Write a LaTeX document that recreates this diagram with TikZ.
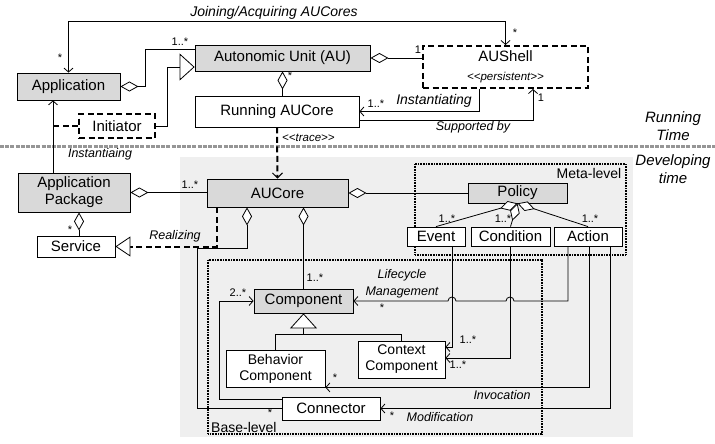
\documentclass[tikz,border=0pt]{standalone}
\usepackage{fontspec}
\setmainfont{Liberation Sans}
\usepackage{tikz}
\usetikzlibrary{arrows.meta}
\usetikzlibrary{backgrounds}

\definecolor{boxgray}{RGB}{217,217,217}
\definecolor{areagray}{RGB}{239,239,239}
\definecolor{sepgray}{RGB}{150,150,150}

\tikzset{
  cls/.style={draw, line width=0.8pt, fill=white, inner sep=1pt, align=center,
    font=\fontsize{15}{17}\selectfont},
  gcls/.style={cls, fill=boxgray},
  dcls/.style={cls, line width=2pt, dash pattern=on 6pt off 3.5pt},
  lbl/.style={inner sep=0pt, align=center, font=\fontsize{12.5}{17}\selectfont\itshape},
  mult/.style={inner sep=0pt, font=\fontsize{11}{12}\selectfont},
  link/.style={line width=0.8pt},
  nav/.style={link, -{Straight Barb[length=4pt,width=9pt]}},
  navboth/.style={link, {Straight Barb[length=4pt,width=9pt]}-{Straight Barb[length=4pt,width=9pt]}},
  aggr/.style={link, {Diamond[fill=white,length=18pt,width=10pt]}-},
  inh/.style={link, -{Triangle[fill=white,length=15pt,width=27pt]}},
  dep/.style={line width=2pt, dash pattern=on 6pt off 3.5pt},
  lvl/.style={line width=2pt, dash pattern=on 1pt off 0.6pt},
}

\begin{document}
\begin{tikzpicture}[x=1pt,y=-1pt]
\useasboundingbox (0,0) rectangle (715,444);

% developing area and levels
\fill[areagray] (180,157) rectangle (633,437);
\draw[lvl] (415,164) rectangle (626,255);
\draw[lvl] (208,260) rectangle (542,434);
\draw[sepgray, line width=3pt, dash pattern=on 4pt off 1.2pt] (0,146) -- (715,146);

% running time
\node[gcls, minimum width=103pt, minimum height=27pt] (app) at (68.5,86.5) {Application};
\node[gcls, minimum width=175pt, minimum height=26pt] (au) at (282.5,58) {Autonomic Unit (AU)};
\node[dcls, minimum width=165pt, minimum height=42pt] (shell) at (505.5,67)
  {AUShell\\[2pt]{\fontsize{11.5}{13}\selectfont\itshape {<}{<}persistent{>}{>}}};
\node[cls, minimum width=164pt, minimum height=31pt] (run) at (277,111.5) {Running AUCore};
\node[dcls, minimum width=76pt, minimum height=24pt] (init) at (117,126) {Initiator};

% developing time
\node[gcls, minimum width=112pt, minimum height=39pt] (apkg) at (74,192.5) {Application\\Package};
\node[cls, minimum width=78pt, minimum height=21pt] (serv) at (76,246.5) {Service};
\node[gcls, minimum width=141pt, minimum height=28pt] (core) at (277.5,193) {AUCore};
\node[gcls, minimum width=99pt, minimum height=20pt] (pol) at (517.5,193) {Policy};
\node[cls, minimum width=58pt, minimum height=19pt] (ev) at (436,236.5) {Event};
\node[cls, minimum width=79pt, minimum height=19pt] (cond) at (510.5,236.5) {Condition};
\node[cls, minimum width=68pt, minimum height=19pt] (act) at (588,236.5) {Action};
\node[gcls, minimum width=99pt, minimum height=24pt] (comp) at (303.5,301) {Component};
\node[cls, minimum width=99pt, minimum height=37pt, font=\fontsize{14}{16}\selectfont] (beh) at (275.5,368.5) {Behavior\\Component};
\node[cls, minimum width=87pt, minimum height=37pt, font=\fontsize{14}{16}\selectfont] (ctx) at (401.5,359.5) {Context\\Component};
\node[cls, minimum width=98pt, minimum height=23pt] (conn) at (331,408.5) {Connector};

\coordinate (instbot) at ([xshift=-21pt]apkg.north);

% running time links
\draw[navboth] (app.north) -- ++(0,-51) -| (shell.north);
\draw[aggr] (app.east) -- ++(25,0) |- ([yshift=9pt]au.west);
\draw[inh] (init.east) -- ++(11,0) |- ([yshift=-9pt]au.west);
\draw[dep] (init.west) -- (init.west -| instbot);
\draw[aggr] (au.east) -- (au.east -| shell.west);
\draw[aggr] (au.south) -- (au.south |- run.north);
\draw[nav] ([xshift=-26.5pt]shell.south) |- (run.east);
\draw[nav] ([yshift=-8.5pt]run.east) -| ([xshift=27.5pt]shell.south);
\draw[dep, -{Straight Barb[line width=1pt,length=5pt,width=10pt]}] (run.south) -- (core.north);
\draw[nav] (instbot) -- (instbot |- app.south);

% developing time links
\draw[aggr] (apkg.east) -- (apkg.east -| core.west);
\draw[aggr] ([xshift=5pt]apkg.south) -- ([xshift=5pt]apkg.south |- serv.north);
\draw[dep, -{Triangle[line width=0.8pt,fill=white,length=15pt,width=20pt]}] ([xshift=-60.5pt]core.south) |- (serv.east);
\draw[aggr] ([xshift=-30.5pt]core.south) -- ++(0,41) -- ++(-50,0) |- (conn.west);
\draw[aggr] (comp.north |- core.south) -- (comp.north);
\draw[aggr] (core.east) -- (core.east -| pol.west);
\foreach \n in {ev,cond,act}
  \draw[aggr] (pol.south) -- (\n.north);

\draw[inh] (beh.north) |- ([yshift=-21pt]comp.south) -- (comp.south);
\draw[link] (ctx.north) |- ([yshift=-21pt]comp.south);
\draw[nav] ([yshift=-3pt]conn.north west) -- ++(-62,0) |- (comp.west);

\draw[nav] ([xshift=-20pt]act.south) -- ([xshift=-20pt]act.south |- comp.east) -- (514,301)
  arc[start angle=0,end angle=180,radius=4pt] -- (456,301)
  arc[start angle=0,end angle=180,radius=4pt] -- (comp.east);
\draw[nav] ([xshift=16pt]ev.south) |- ([yshift=12.5pt]ctx.east);
\draw[nav] (cond.south) |- ([yshift=1.5pt]ctx.east);
\draw[nav] ([xshift=1pt]act.south) |- (beh.south east);
\draw[nav] ([xshift=22pt]act.south) |- (conn.east);

% labels
\node[lbl, font=\fontsize{14}{17}\selectfont\itshape] (joinlbl) at (274,13) {Joining/Acquiring AUCores};
\node[lbl, font=\fontsize{14}{17}\selectfont\itshape] (instlbl) at (434,101) {Instantiating};
\node[lbl] (suplbl) at (473,127) {Supported by};
\node[lbl, anchor=west, font=\fontsize{11.5}{13}\selectfont\itshape] (tracelbl) at (282,138) {{<}{<}trace{>}{>}};
\node[lbl] (instantlbl) at (100,154) {Instantiaing};
\node[lbl] (reallbl) at (175,236) {Realizing};
\node[lbl] (lifelbl) at (402,284) {Lifecycle\\Management};
\node[lbl] (invlbl) at (502,395) {Invocation};
\node[lbl] (modlbl) at (440,417) {Modification};
\node[lbl, font=\fontsize{15}{18}\selectfont\itshape] (runlbl) at (673,126) {Running\\Time};
\node[lbl, font=\fontsize{15}{18}\selectfont\itshape] (devlbl) at (673,169) {Developing\\time};
\node[inner sep=0pt, font=\fontsize{14}{16}\selectfont] (metalbl) at (589,173) {Meta-level};
\node[inner sep=0pt, anchor=west, font=\fontsize{14}{16}\selectfont] (baselbl) at (211,427) {Base-level};

% multiplicities
\foreach \x/\y/\t [count=\i] in {60/58/*, 515/33/*, 180/42/{1..*}, 418/50/1, 290/76/*,
    376/104/{1..*}, 541/98/1, 190/185/{1..*}, 70/230/*, 315/278/{1..*},
    447/219/{1..*}, 503/219/{1..*}, 590/219/{1..*}, 238/293/{2..*}, 382/308/*,
    468/340/{1..*}, 458/365/{1..*}, 335/378/*, 270/413/*, 392/416/*}
  \node[mult] (mult\i) at (\x,\y) {\t};
\end{tikzpicture}
\end{document}
